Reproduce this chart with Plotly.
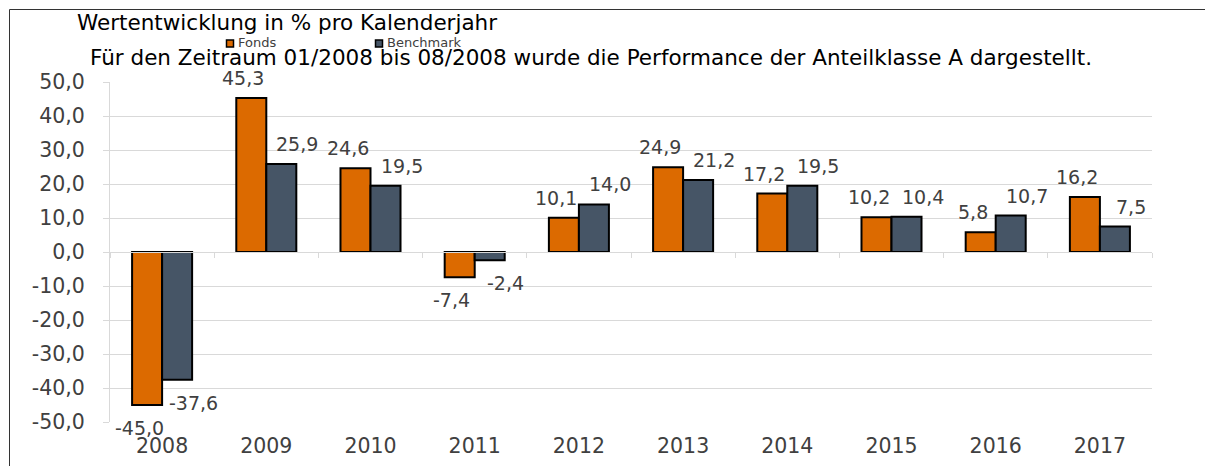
import plotly.graph_objects as go

# ---- data ----
years = ["2008", "2009", "2010", "2011", "2012", "2013", "2014", "2015", "2016", "2017"]
fonds = [-45.0, 45.3, 24.6, -7.4, 10.1, 24.9, 17.2, 10.2, 5.8, 16.2]
benchmark = [-37.6, 25.9, 19.5, -2.4, 14.0, 21.2, 19.5, 10.4, 10.7, 7.5]
series_names = ["Fonds", "Benchmark"]
y_tick_vals = [-50, -40, -30, -20, -10, 0, 10, 20, 30, 40, 50]
y_tick_text = ["-50,0", "-40,0", "-30,0", "-20,0", "-10,0", "0,0", "10,0", "20,0", "30,0", "40,0", "50,0"]
title_text = "Wertentwicklung in % pro Kalenderjahr"
subtitle_text = "Für den Zeitraum 01/2008 bis 08/2008 wurde die Performance der Anteilklasse A dargestellt."

# ---- style ----
W, H = 1213, 466
ML, MR, MT, MB = 102, 69, 74, 52
PW, PH = W - ML - MR, H - MT - MB
FONT = "DejaVu Sans, Verdana, sans-serif"
ORANGE = "#DC6A00"
DARK = "#465566"
GRID = "#D9D9D9"
TXT = "#404040"


def fmt(v):
    return f"{v:.1f}".replace(".", ",")


def px_x(px):
    return (px - ML) / PW


def px_y(py):
    return (H - MB - py) / PH


fig = go.Figure()
fig.add_trace(go.Bar(x=years, y=fonds, name=series_names[0],
                     marker=dict(color=ORANGE, line=dict(color="black", width=2)),
                     showlegend=False))
fig.add_trace(go.Bar(x=years, y=benchmark, name=series_names[1],
                     marker=dict(color=DARK, line=dict(color="black", width=2)),
                     showlegend=False))
# invisible helper trace for the axis through zero (category tick marks)
fig.add_trace(go.Scatter(x=years, y=[0] * len(years), xaxis="x2", yaxis="y",
                         mode="markers", marker=dict(opacity=0),
                         hoverinfo="skip", showlegend=False))

annotations = []
for vals, xs in ((fonds, -23), (benchmark, 31)):
    for i, v in enumerate(vals):
        annotations.append(dict(
            x=i, y=v, xref="x", yref="y", text=fmt(v), showarrow=False,
            xanchor="center", yanchor="bottom" if v >= 0 else "top",
            xshift=xs, yshift=7 if v >= 0 else -10,
            font=dict(family=FONT, size=19, color=TXT)))

# subtitle
annotations.append(dict(
    x=px_x(80), y=px_y(49.5), xref="paper", yref="paper", text=subtitle_text,
    showarrow=False, xanchor="left", yanchor="middle",
    font=dict(family=FONT, size=21.5, color="black")))

# custom legend text
legend_x = [228, 377]
for name, lx in zip(series_names, legend_x):
    annotations.append(dict(
        x=px_x(lx), y=px_y(35), xref="paper", yref="paper", text=name,
        showarrow=False, xanchor="left", yanchor="middle",
        font=dict(family=FONT, size=13, color=TXT)))

shapes = []
for col, lx in zip([ORANGE, DARK], legend_x):
    shapes.append(dict(type="rect", xref="paper", yref="paper",
                       x0=px_x(lx - 9.5), x1=px_x(lx - 2.5),
                       y0=px_y(39), y1=px_y(32),
                       fillcolor=col, line=dict(color="black", width=1.5)))
# outer frame
shapes.append(dict(type="rect", xref="paper", yref="paper",
                   x0=px_x(1.5), x1=px_x(1198.5), y0=px_y(480), y1=px_y(1.5),
                   line=dict(color="#333333", width=1), fillcolor="rgba(0,0,0,0)",
                   layer="below"))

fig.update_layout(
    width=W, height=H,
    margin=dict(l=ML, r=MR, t=MT, b=MB, pad=0),
    paper_bgcolor="white", plot_bgcolor="white",
    barmode="group", bargap=0.424, bargroupgap=0,
    font=dict(family=FONT, color=TXT),
    title=dict(text=title_text, xref="container", yref="container",
               x=69 / W, y=1 - 14 / H, xanchor="left", yanchor="middle",
               font=dict(family=FONT, size=21.5, color="black")),
    xaxis=dict(type="category", range=[-0.5, len(years) - 0.5],
               showgrid=False, showline=False, ticks="", zeroline=False,
               tickfont=dict(family=FONT, size=20.5, color=TXT),
               ticklabelstandoff=9),
    xaxis2=dict(type="category", overlaying="x", anchor="free", position=0.5,
                side="bottom", range=[-0.5, len(years) - 0.5],
                showgrid=False, showline=True, linecolor=GRID, linewidth=1,
                ticks="outside", ticklen=5, tickcolor=GRID, tickwidth=1,
                tickson="boundaries", showticklabels=False, zeroline=False),
    yaxis=dict(range=[-50, 50], tickmode="array", tickvals=y_tick_vals,
               ticktext=y_tick_text, showgrid=True, gridcolor=GRID, gridwidth=1,
               showline=True, linecolor=GRID, linewidth=1,
               ticks="outside", ticklen=6, tickcolor=GRID,
               zeroline=False, ticklabelstandoff=14,
               tickfont=dict(family=FONT, size=20.5, color=TXT)),
    annotations=annotations,
    shapes=shapes,
    hovermode=False,
)

fig.write_html("out.html")
